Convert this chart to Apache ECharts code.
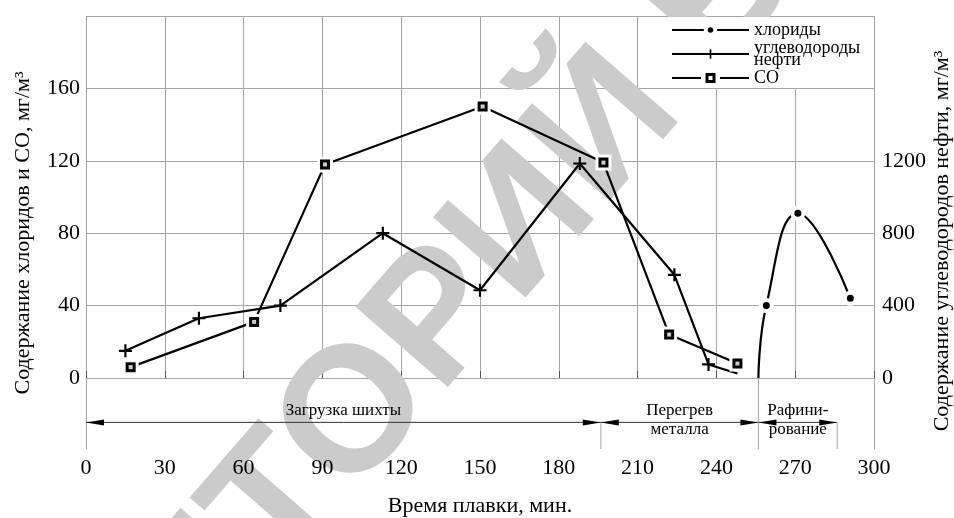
<!DOCTYPE html>
<html>
<head>
<meta charset="utf-8">
<script src="https://cdn.jsdelivr.net/npm/echarts@6/dist/echarts.min.js"></script>
<style>
    html, body { margin: 0; padding: 0; background: #fff; }
    #chart { width: 954px; height: 518px; }
</style>
</head>
<body>
<div id="chart"></div>
<script>
// CO, мг/м3 (левая ось)
const coTime = [17, 64, 91, 151, 197, 222, 248];
const coValue = [6, 31, 118, 150, 119, 24, 8];
// углеводороды нефти, мг/м3 (правая ось)
const oilTime = [15, 43, 74, 113, 150, 188, 224, 237, 248];
const oilValue = [150, 330, 400, 800, 485, 1185, 570, 75, 25];
// хлориды, мг/м3 (левая ось)
const chlorTime = [256, 259, 271, 291];
const chlorValue = [0, 40, 91, 44];

const timeTicks = [0, 30, 60, 90, 120, 150, 180, 210, 240, 270, 300];
const leftTicks = [0, 40, 80, 120, 160];
const rightTicks = [0, 400, 800, 1200];

// стадии плавки
const stageNames = ['Загрузка шихты', 'Перегрев\nметалла', 'Рафини-\nрование'];
const stageStart = [0, 196, 256];
const stageEnd = [196, 256, 286];

const FONT = 'Liberation Serif';
const GRID_COLOR = '#a5a5a5';
const ARROW_Y = -25;
const SEP_TOP = [ARROW_Y, 0, ARROW_Y];

const plusIcon = 'path://M5,0H7V5H12V7H7V12H5V7H0V5H5Z';
const coLegendIcon = 'path://M0,5H29V7H0Z M33.5,1H43.5V11H33.5Z M36.5,4V8H40.5V4Z M48,5H77V7H48Z';

function pairs(xs, ys) {
    return xs.map((x, i) => [x, ys[i]]);
}

const chart = echarts.init(document.getElementById('chart'));

function renderStage(params, api) {
    const i = params.dataIndex;
    const a = api.coord([api.value(0), ARROW_Y]);
    const b = api.coord([api.value(1), ARROW_Y]);
    const sTop = api.coord([api.value(1), SEP_TOP[i]]);
    const sBot = api.coord([api.value(1), -40]);
    const L = 18, W = 3;
    return {
        type: 'group',
        children: [
            { type: 'line', shape: { x1: a[0], y1: a[1], x2: b[0], y2: b[1] }, style: { stroke: '#333', lineWidth: 1 } },
            { type: 'polygon', shape: { points: [a, [a[0] + L, a[1] - W], [a[0] + L, a[1] + W]] }, style: { fill: '#000' } },
            { type: 'polygon', shape: { points: [b, [b[0] - L, b[1] - W], [b[0] - L, b[1] + W]] }, style: { fill: '#000' } },
            { type: 'line', shape: { x1: sTop[0], y1: sTop[1], x2: sBot[0], y2: sBot[1] }, style: { stroke: GRID_COLOR, lineWidth: 1 } },
            {
                type: 'text',
                x: (a[0] + b[0]) / 2,
                y: a[1] - 21,
                style: {
                    text: stageNames[i],
                    fill: '#000',
                    font: '17px "' + FONT + '"',
                    align: 'center', verticalAlign: 'top',
                    textAlign: 'center', textVerticalAlign: 'top',
                    lineHeight: 19
                }
            }
        ]
    };
}

const option = {
    animation: false,
    backgroundColor: '#fff',
    textStyle: { fontFamily: FONT },
    grid: [
        { left: 86, right: 80, top: 16, height: 362 },
        { left: 86, right: 80, top: 378, height: 72 }
    ],
    legend: {
        data: [
            { name: 'хлориды', itemStyle: { borderWidth: 4 } },
            { name: 'углеводороды нефти' },
            { name: 'CO', icon: coLegendIcon, itemStyle: { color: '#000', borderWidth: 0 } }
        ],
        orient: 'vertical',
        left: 663,
        top: 17,
        padding: [4, 12, 1, 8],
        itemWidth: 77,
        itemHeight: 12,
        itemGap: 0,
        backgroundColor: '#fff',
        selectedMode: false,
        formatter: name => name === 'углеводороды нефти' ? 'углеводороды\nнефти' : name,
        textStyle: { fontFamily: FONT, fontSize: 18, color: '#000', lineHeight: 12 }
    },
    xAxis: [
        {
            gridIndex: 0, type: 'value', min: 0, max: 300, interval: 30,
            axisLine: { show: false }, axisTick: { show: false }, axisLabel: { show: false },
            splitLine: { show: true, lineStyle: { color: GRID_COLOR, width: 1 } }
        },
        {
            gridIndex: 1, type: 'value', min: 0, max: 300, interval: 30,
            axisLine: { show: true, lineStyle: { color: GRID_COLOR, width: 1 } },
            axisTick: { show: true, inside: true, length: 7, lineStyle: { color: '#555' } },
            axisLabel: {
                fontFamily: FONT, fontSize: 22, color: '#000', margin: 8,
                formatter: v => timeTicks.includes(v) ? String(v) : ''
            },
            splitLine: { show: false },
            name: 'Время плавки, мин.',
            nameLocation: 'middle',
            nameGap: 46,
            nameTextStyle: { fontFamily: FONT, fontSize: 22, color: '#000' }
        }
    ],
    yAxis: [
        {
            gridIndex: 0, type: 'value', position: 'left', min: 0, max: 200, interval: 40,
            axisLine: { show: false }, axisTick: { show: false },
            axisLabel: {
                fontFamily: FONT, fontSize: 22, color: '#000', margin: 6,
                formatter: v => leftTicks.includes(v) ? String(v) : ''
            },
            splitLine: { show: true, lineStyle: { color: GRID_COLOR, width: 1 } }
        },
        {
            gridIndex: 0, type: 'value', position: 'right', min: 0, max: 2000, interval: 400,
            axisLine: { show: false }, axisTick: { show: false },
            axisLabel: {
                fontFamily: FONT, fontSize: 22, color: '#000', margin: 8,
                formatter: v => rightTicks.includes(v) ? String(v) : ''
            },
            splitLine: { show: false }
        },
        {
            gridIndex: 1, type: 'value', position: 'left', min: -40, max: 0, interval: 40,
            axisLine: { show: true, lineStyle: { color: GRID_COLOR, width: 1 } },
            axisTick: { show: false }, axisLabel: { show: false }, splitLine: { show: false }
        },
        {
            gridIndex: 1, type: 'value', position: 'right', min: -40, max: 0, interval: 40,
            axisLine: { show: true, lineStyle: { color: GRID_COLOR, width: 1 } },
            axisTick: { show: false }, axisLabel: { show: false }, splitLine: { show: false }
        }
    ],
    graphic: [
        {
            type: 'text', z: 0, z2: 5, silent: true,
            x: -244, y: 1108, rotation: 49 * Math.PI / 180,
            style: {
                text: 'РЕПОЗИТОРИЙ БНТУ', fill: '#cbcbcb',
                font: 'bold 178px "Liberation Sans"',
                align: 'left', verticalAlign: 'middle',
                textAlign: 'left', textVerticalAlign: 'middle'
            }
        },
        {
            type: 'text', silent: true, x: 23, y: 233, rotation: Math.PI / 2,
            style: {
                text: 'Содержание хлоридов и СО, мг/м³', fill: '#000',
                font: '22px "' + FONT + '"',
                align: 'center', verticalAlign: 'middle',
                textAlign: 'center', textVerticalAlign: 'middle'
            }
        },
        {
            type: 'text', silent: true, x: 942, y: 241, rotation: Math.PI / 2,
            style: {
                text: 'Содержание углеводородов нефти, мг/м³', fill: '#000',
                font: '22px "' + FONT + '"',
                align: 'center', verticalAlign: 'middle',
                textAlign: 'center', textVerticalAlign: 'middle'
            }
        }
    ],
    series: [
        {
            name: 'углеводороды нефти',
            type: 'line',
            xAxisIndex: 0, yAxisIndex: 1,
            data: pairs(oilTime, oilValue).map((p, i) =>
                i === oilTime.length - 1 ? { value: p, symbol: 'none' } : p),
            symbol: plusIcon,
            symbolSize: 13,
            lineStyle: { color: '#000', width: 2.2 },
            itemStyle: { color: '#000', borderWidth: 0 },
            emphasis: { disabled: true }
        },
        {
            name: 'CO',
            type: 'line',
            xAxisIndex: 0, yAxisIndex: 0,
            data: pairs(coTime, coValue),
            symbol: 'rect',
            symbolSize: 13,
            lineStyle: { color: '#000', width: 2.2 },
            itemStyle: { color: '#000', borderColor: '#fff', borderWidth: 3 },
            emphasis: { disabled: true }
        },
        {
            name: 'CO-hole',
            type: 'scatter',
            xAxisIndex: 0, yAxisIndex: 0,
            data: pairs(coTime, coValue),
            symbol: 'rect',
            symbolSize: 4,
            itemStyle: { color: '#fff' },
            z: 3,
            silent: true
        },
        {
            name: 'хлориды',
            type: 'line',
            xAxisIndex: 0, yAxisIndex: 0,
            data: pairs(chlorTime, chlorValue).map((p, i) =>
                i === 0 ? { value: p, symbol: 'none' } : p),
            smooth: 0.45,
            symbol: 'circle',
            symbolSize: 11,
            lineStyle: { color: '#000', width: 2.2 },
            itemStyle: { color: '#000', borderColor: '#fff', borderWidth: 4 },
            emphasis: { disabled: true }
        },
        {
            name: 'stages',
            type: 'custom',
            xAxisIndex: 1, yAxisIndex: 2,
            silent: true,
            data: pairs(stageStart, stageEnd),
            renderItem: renderStage
        }
    ]
};

chart.setOption(option);
</script>
</body>
</html>
